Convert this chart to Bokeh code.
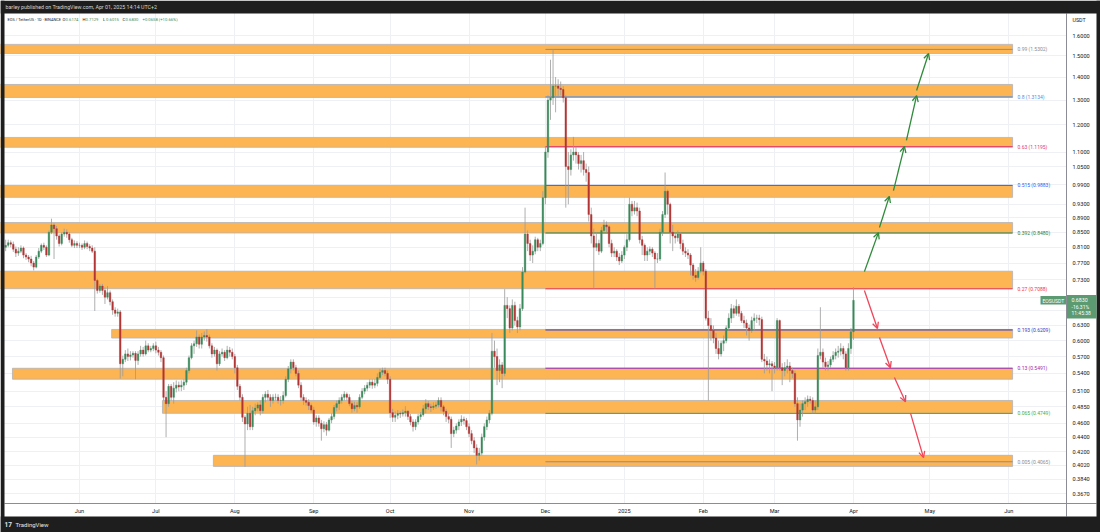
import math
import pandas as pd
from bokeh.plotting import figure
from bokeh.models import (Range1d, FixedTicker, PrintfTickFormatter, Label,
                          BoxAnnotation, Arrow, OpenHead, ColumnDataSource)
from bokeh.embed import file_html
from bokeh.resources import INLINE

# ---------------- data (EOS / USDT daily, 2024-05-03 .. 2025-04-01) ----------------
first_open = 0.81
close = [
    # May 3-31
    0.815, 0.822, 0.818, 0.805, 0.795, 0.800, 0.808, 0.790, 0.785, 0.780, 0.770, 0.760, 0.785, 0.800, 0.815,
    0.810, 0.790, 0.850, 0.870, 0.860, 0.840, 0.820, 0.845, 0.850, 0.845, 0.830, 0.815, 0.820, 0.815,
    # Jun
    0.815, 0.810, 0.820, 0.812, 0.808, 0.800, 0.728, 0.705, 0.715, 0.705, 0.690, 0.700, 0.680, 0.662, 0.655,
    0.658, 0.557, 0.565, 0.575, 0.570, 0.573, 0.576, 0.563, 0.575, 0.582, 0.575, 0.590, 0.582, 0.585, 0.590,
    # Jul
    0.582, 0.578, 0.568, 0.500, 0.490, 0.518, 0.500, 0.515, 0.520, 0.517, 0.520, 0.525, 0.545, 0.568, 0.590,
    0.594, 0.607, 0.593, 0.607, 0.610, 0.607, 0.590, 0.575, 0.582, 0.557, 0.575, 0.578, 0.568, 0.582, 0.578, 0.570,
    # Aug
    0.550, 0.518, 0.500, 0.469, 0.459, 0.475, 0.455, 0.479, 0.483, 0.488, 0.479, 0.500, 0.505, 0.500, 0.495,
    0.500, 0.500, 0.495, 0.495, 0.503, 0.530, 0.548, 0.560, 0.550, 0.540, 0.520, 0.500, 0.495, 0.492, 0.487, 0.480,
    # Sep
    0.462, 0.468, 0.460, 0.452, 0.458, 0.450, 0.465, 0.470, 0.484, 0.490, 0.495, 0.500, 0.505, 0.500, 0.490,
    0.482, 0.487, 0.485, 0.500, 0.510, 0.515, 0.520, 0.525, 0.520, 0.523, 0.533, 0.542, 0.545, 0.540, 0.530,
    # Oct
    0.476, 0.469, 0.472, 0.475, 0.474, 0.476, 0.478, 0.470, 0.462, 0.455, 0.462, 0.470, 0.473, 0.482, 0.490,
    0.485, 0.484, 0.486, 0.488, 0.495, 0.485, 0.478, 0.470, 0.466, 0.445, 0.450, 0.456, 0.462, 0.466, 0.464, 0.455,
    # Nov
    0.445, 0.435, 0.425, 0.415, 0.418, 0.440, 0.455, 0.465, 0.475, 0.580, 0.570, 0.545, 0.555, 0.540, 0.672,
    0.665, 0.625, 0.672, 0.640, 0.627, 0.665, 0.748, 0.845, 0.820, 0.790, 0.800, 0.830, 0.810, 0.820, 0.950,
    # Dec
    1.100, 1.300, 1.310, 1.360, 1.360, 1.350, 1.345, 1.310, 1.050, 1.040, 1.090, 1.100, 1.090, 1.060, 1.070,
    1.040, 1.030, 0.900, 0.840, 0.810, 0.820, 0.800, 0.855, 0.870, 0.865, 0.820, 0.795, 0.800, 0.785, 0.775, 0.790,
    # Jan
    0.810, 0.830, 0.930, 0.910, 0.920, 0.910, 0.830, 0.815, 0.790, 0.800, 0.805, 0.795, 0.780, 0.780, 0.850,
    0.900, 0.970, 0.930, 0.850, 0.840, 0.835, 0.845, 0.820, 0.800, 0.795, 0.790, 0.765, 0.740, 0.735, 0.750, 0.770,
    # Feb
    0.750, 0.645, 0.630, 0.620, 0.605, 0.585, 0.575, 0.595, 0.600, 0.625, 0.645, 0.665, 0.655, 0.670, 0.655,
    0.640, 0.635, 0.625, 0.620, 0.640, 0.645, 0.645, 0.642, 0.565, 0.562, 0.555, 0.557, 0.553,
    # Mar
    0.550, 0.640, 0.550, 0.545, 0.550, 0.553, 0.545, 0.540, 0.490, 0.465, 0.480, 0.490, 0.493, 0.497, 0.495,
    0.480, 0.485, 0.572, 0.578, 0.560, 0.552, 0.555, 0.565, 0.572, 0.578, 0.580, 0.585, 0.575, 0.550, 0.585, 0.6174,
    # Apr 1
    0.6830,
]
high = [
    0.830, 0.830, 0.828, 0.825, 0.812, 0.810, 0.815, 0.812, 0.795, 0.790, 0.788, 0.775, 0.790, 0.808, 0.820,
    0.822, 0.815, 0.855, 0.888, 0.875, 0.868, 0.845, 0.850, 0.860, 0.858, 0.850, 0.835, 0.828, 0.826,
    0.822, 0.820, 0.828, 0.825, 0.818, 0.815, 0.810, 0.732, 0.720, 0.720, 0.712, 0.715, 0.705, 0.685, 0.668,
    0.665, 0.662, 0.572, 0.582, 0.585, 0.580, 0.580, 0.580, 0.580, 0.590, 0.588, 0.600, 0.595, 0.590, 0.595,
    0.598, 0.588, 0.582, 0.572, 0.510, 0.522, 0.522, 0.525, 0.528, 0.526, 0.528, 0.530, 0.550, 0.572, 0.595,
    0.600, 0.620, 0.612, 0.615, 0.618, 0.622, 0.612, 0.595, 0.588, 0.585, 0.580, 0.585, 0.582, 0.590, 0.588, 0.585,
    0.575, 0.555, 0.522, 0.505, 0.472, 0.485, 0.488, 0.485, 0.490, 0.492, 0.495, 0.505, 0.510, 0.512, 0.505,
    0.505, 0.506, 0.505, 0.502, 0.510, 0.535, 0.553, 0.565, 0.565, 0.555, 0.545, 0.525, 0.505, 0.500, 0.497, 0.490,
    0.485, 0.472, 0.472, 0.465, 0.463, 0.462, 0.468, 0.475, 0.488, 0.495, 0.500, 0.505, 0.510, 0.508, 0.505,
    0.494, 0.493, 0.492, 0.505, 0.515, 0.520, 0.525, 0.530, 0.530, 0.530, 0.540, 0.548, 0.550, 0.550, 0.545,
    0.535, 0.482, 0.478, 0.480, 0.478, 0.481, 0.486, 0.480, 0.474, 0.466, 0.466, 0.474, 0.477, 0.488, 0.497,
    0.494, 0.490, 0.492, 0.493, 0.500, 0.500, 0.488, 0.482, 0.475, 0.470, 0.455, 0.460, 0.466, 0.472, 0.470, 0.468,
    0.460, 0.450, 0.440, 0.430, 0.425, 0.445, 0.460, 0.470, 0.480, 0.615, 0.600, 0.585, 0.565, 0.560, 0.708,
    0.690, 0.672, 0.685, 0.680, 0.648, 0.675, 0.760, 0.920, 0.855, 0.830, 0.815, 0.838, 0.835, 0.830, 0.970,
    1.120, 1.320, 1.480, 1.530, 1.400, 1.390, 1.380, 1.360, 1.320, 1.100, 1.110, 1.155, 1.120, 1.100, 1.090,
    1.100, 1.060, 1.050, 0.920, 0.860, 0.850, 0.830, 0.865, 0.885, 0.880, 0.870, 0.830, 0.810, 0.805, 0.795, 0.800,
    0.815, 0.845, 0.950, 0.940, 0.940, 0.935, 0.920, 0.840, 0.820, 0.810, 0.812, 0.810, 0.800, 0.795, 0.860,
    0.910, 1.030, 0.975, 0.935, 0.870, 0.850, 0.855, 0.850, 0.830, 0.810, 0.805, 0.795, 0.770, 0.755, 0.760, 0.810,
    0.775, 0.755, 0.660, 0.645, 0.630, 0.615, 0.600, 0.600, 0.610, 0.630, 0.655, 0.675, 0.672, 0.685, 0.675,
    0.660, 0.650, 0.642, 0.632, 0.648, 0.655, 0.652, 0.652, 0.648, 0.575, 0.570, 0.565, 0.562,
    0.560, 0.645, 0.642, 0.558, 0.560, 0.565, 0.560, 0.550, 0.545, 0.500, 0.490, 0.495, 0.500, 0.503, 0.502,
    0.500, 0.495, 0.585, 0.668, 0.585, 0.568, 0.562, 0.570, 0.580, 0.585, 0.590, 0.595, 0.590, 0.580, 0.595, 0.625,
    0.7129,
]
low = [
    0.800, 0.810, 0.810, 0.798, 0.785, 0.788, 0.795, 0.782, 0.778, 0.772, 0.762, 0.752, 0.757, 0.780, 0.795,
    0.803, 0.785, 0.787, 0.845, 0.780, 0.830, 0.812, 0.815, 0.838, 0.835, 0.822, 0.810, 0.808, 0.808,
    0.808, 0.803, 0.805, 0.805, 0.800, 0.795, 0.660, 0.698, 0.700, 0.695, 0.675, 0.685, 0.672, 0.652, 0.648,
    0.648, 0.531, 0.535, 0.560, 0.562, 0.563, 0.568, 0.530, 0.555, 0.570, 0.570, 0.572, 0.578, 0.578, 0.580,
    0.576, 0.572, 0.560, 0.495, 0.440, 0.485, 0.495, 0.490, 0.508, 0.510, 0.510, 0.512, 0.520, 0.540, 0.565,
    0.575, 0.588, 0.585, 0.585, 0.600, 0.598, 0.585, 0.568, 0.570, 0.545, 0.553, 0.570, 0.562, 0.565, 0.570, 0.565,
    0.540, 0.512, 0.495, 0.462, 0.400, 0.450, 0.450, 0.450, 0.472, 0.478, 0.472, 0.475, 0.492, 0.495, 0.485,
    0.490, 0.495, 0.490, 0.487, 0.490, 0.500, 0.525, 0.540, 0.545, 0.535, 0.515, 0.495, 0.488, 0.487, 0.480, 0.476,
    0.458, 0.455, 0.455, 0.435, 0.447, 0.442, 0.448, 0.460, 0.466, 0.478, 0.480, 0.490, 0.495, 0.495, 0.486,
    0.476, 0.478, 0.476, 0.482, 0.497, 0.505, 0.510, 0.515, 0.514, 0.515, 0.518, 0.530, 0.537, 0.535, 0.522,
    0.468, 0.462, 0.462, 0.466, 0.468, 0.470, 0.470, 0.465, 0.457, 0.448, 0.450, 0.458, 0.465, 0.470, 0.475,
    0.480, 0.477, 0.480, 0.482, 0.484, 0.478, 0.472, 0.462, 0.460, 0.425, 0.440, 0.445, 0.450, 0.456, 0.458, 0.450,
    0.440, 0.430, 0.418, 0.403, 0.408, 0.415, 0.435, 0.450, 0.460, 0.472, 0.550, 0.520, 0.525, 0.515, 0.535,
    0.645, 0.615, 0.620, 0.630, 0.615, 0.620, 0.660, 0.745, 0.800, 0.775, 0.770, 0.792, 0.800, 0.800, 0.815,
    0.930, 1.080, 1.220, 1.280, 1.250, 1.310, 1.320, 1.290, 0.920, 0.930, 1.020, 1.070, 1.060, 1.040, 1.030,
    1.020, 1.000, 0.880, 0.820, 0.710, 0.800, 0.790, 0.795, 0.850, 0.850, 0.810, 0.785, 0.785, 0.775, 0.765, 0.770,
    0.780, 0.800, 0.825, 0.895, 0.900, 0.895, 0.820, 0.790, 0.775, 0.775, 0.790, 0.785, 0.710, 0.770, 0.775,
    0.840, 0.890, 0.900, 0.820, 0.800, 0.820, 0.825, 0.805, 0.790, 0.785, 0.780, 0.740, 0.730, 0.725, 0.730, 0.745,
    0.740, 0.640, 0.495, 0.600, 0.595, 0.575, 0.565, 0.570, 0.580, 0.595, 0.620, 0.635, 0.645, 0.650, 0.648,
    0.635, 0.625, 0.610, 0.600, 0.615, 0.620, 0.635, 0.630, 0.560, 0.540, 0.545, 0.540, 0.510,
    0.540, 0.545, 0.545, 0.520, 0.535, 0.540, 0.525, 0.532, 0.485, 0.435, 0.455, 0.470, 0.480, 0.485, 0.490,
    0.475, 0.475, 0.480, 0.565, 0.550, 0.545, 0.545, 0.550, 0.560, 0.565, 0.568, 0.572, 0.565, 0.545, 0.545, 0.575,
    0.6015,
]
first_day = "2024-05-03"

price_ticks = [1.6, 1.5, 1.4, 1.3, 1.2, 1.1, 1.05, 0.99, 0.93, 0.89, 0.85, 0.81, 0.77, 0.73, 0.69, 0.66,
               0.63, 0.60, 0.57, 0.54, 0.51, 0.485, 0.46, 0.44, 0.42, 0.402, 0.384, 0.367]
month_ticks = ["2024-06-01", "2024-07-01", "2024-08-01", "2024-09-01", "2024-10-01", "2024-11-01",
               "2024-12-01", "2025-01-01", "2025-02-01", "2025-03-01", "2025-04-01", "2025-05-01", "2025-06-01"]
month_labels = ["Jun", "Jul", "Aug", "Sep", "Oct", "Nov", "Dec", "2025", "Feb", "Mar", "Apr", "May", "Jun"]

# horizontal zones (price bands)
zone_top = [1.555, 1.367, 1.153, 0.988, 0.877, 0.750, 0.622, 0.549, 0.495, 0.415]
zone_bottom = [1.510, 1.311, 1.117, 0.951, 0.848, 0.709, 0.605, 0.530, 0.475, 0.4005]
zone_start = ["2024-04-01", "2024-04-01", "2024-04-01", "2024-04-01", "2024-04-01", "2024-04-01",
              "2024-06-13 15:00", "2024-05-05 16:00", "2024-07-03 14:00", "2024-07-23 14:00"]
zone_end = "2025-06-02 12:00"

# fibonacci retracement
fib_ratio = ["0.99", "0.8", "0.63", "0.515", "0.392", "0.27", "0.193", "0.13", "0.065", "0.005"]
fib_price = [1.5302, 1.3134, 1.1195, 0.9883, 0.8480, 0.7088, 0.6209, 0.5491, 0.4749, 0.4065]
fib_color = ["#8a8d96", "#4f8fe6", "#e0406e", "#2962ff", "#2e7d32", "#f23645", "#3838c0", "#9c27b0",
             "#3fae3f", "#8a8d96"]
fib_start = "2024-12-01"

# projection arrows (start date, start price, end date, end price)
up_arrows = [("2025-04-05 07:00", 0.749, "2025-04-10 19:00", 0.849),
             ("2025-04-11 05:00", 0.863, "2025-04-15 02:00", 0.954),
             ("2025-04-16 17:00", 0.972, "2025-04-21 00:00", 1.120),
             ("2025-04-21 19:00", 1.142, "2025-04-25 19:00", 1.319),
             ("2025-04-25 19:00", 1.341, "2025-04-30 12:00", 1.510)]
down_arrows = [("2025-04-05 07:00", 0.705, "2025-04-10 10:00", 0.624),
               ("2025-04-11 05:00", 0.606, "2025-04-15 12:00", 0.550),
               ("2025-04-17 02:00", 0.533, "2025-04-21 10:00", 0.493),
               ("2025-04-23 10:00", 0.475, "2025-04-28 12:00", 0.412)]

# ---------------- layout helpers (pixel <-> data, whole canvas is the frame) ----------------
DAY = 86400000.0
W, H = 1100, 532


def ms(s):
    return pd.Timestamp(s).value / 1e6


T0 = ms("2024-06-01")
PX_T0, PX_DAY = 79.0, 2.546          # Jun 1 2024 sits at x=79, 2.546 px per day
PY_REF, LN_REF, PX_LN = 35.0, math.log(1.6), 311.1   # 1.6 sits at y=35, 311.1 px per ln unit


def px_x(px):
    return T0 + (px - PX_T0) / PX_DAY * DAY


def px_y(py):
    return math.exp(LN_REF - (py - PY_REF) / PX_LN)


FONT = "Roboto"
DARK = "#1e1e1e"
TXT = "#131722"
GREEN = "#3a8a5c"
RED = "#b43434"
SEP = "#8a8d96"

# ---------------- figure ----------------
p = figure(width=W, height=H, x_axis_type="datetime", y_axis_type="log",
           x_range=Range1d(px_x(0), px_x(W)), y_range=Range1d(px_y(H), px_y(0)),
           y_axis_location="right", output_backend="svg", toolbar_location=None,
           title_location=None,
           min_border_left=0, min_border_right=0, min_border_top=0, min_border_bottom=0,
           background_fill_color="white", border_fill_color=DARK, outline_line_color=None)

p.yaxis.ticker = FixedTicker(ticks=price_ticks)
p.ygrid.ticker = FixedTicker(ticks=price_ticks)
p.yaxis.formatter = PrintfTickFormatter(format="%.4f")
tick_ms = [int(ms(t)) for t in month_ticks]
p.xaxis.ticker = FixedTicker(ticks=tick_ms)
p.xgrid.ticker = FixedTicker(ticks=tick_ms)
p.xaxis.major_label_overrides = {t: lab for t, lab in zip(tick_ms, month_labels)}

for ax in (p.xaxis, p.yaxis):
    ax.major_tick_line_color = None
    ax.minor_tick_line_color = None
    ax.major_tick_out = 0
    ax.major_tick_in = 0
    ax.minor_tick_out = 0
    ax.minor_tick_in = 0
    ax.axis_line_color = None
    ax.major_label_text_font = FONT
    ax.major_label_text_font_size = "5.6px"
    ax.major_label_text_color = TXT
p.yaxis.major_label_standoff = -28     # labels start at x = 1072
p.xaxis.major_label_standoff = -25     # labels centred near y = 510
p.grid.grid_line_color = "#eef0f3"
p.grid.grid_line_width = 1

# white price-scale / time-scale panels (hide grid there)
p.add_layout(BoxAnnotation(left=px_x(1066), right=px_x(W), top=px_y(0), bottom=px_y(H),
                           fill_color="white", fill_alpha=1, line_color=None, level="underlay"))
p.add_layout(BoxAnnotation(left=px_x(0), right=px_x(W), top=px_y(503), bottom=px_y(H),
                           fill_color="white", fill_alpha=1, line_color=None, level="underlay"))

# zones
p.quad(left=[ms(s) for s in zone_start], right=[ms(zone_end)] * len(zone_top),
       top=zone_top, bottom=zone_bottom, fill_color="#fdb553", fill_alpha=1.0,
       line_color="#b0b3ba", line_width=0.8)

# fib lines
n = len(fib_price)
p.segment(x0=[ms(fib_start)] * n, x1=[ms(zone_end)] * n, y0=fib_price, y1=fib_price,
          line_color=fib_color, line_width=1)

# candles
dates = pd.date_range(first_day, periods=len(close), freq="D")
opens = [first_open] + close[:-1]
hi = [max(h, o, c) for h, o, c in zip(high, opens, close)]
lo = [min(l, o, c) for l, o, c in zip(low, opens, close)]
src = ColumnDataSource(dict(
    x=dates, hi=hi, lo=lo,
    top=[max(o, c) for o, c in zip(opens, close)],
    bot=[min(o, c) for o, c in zip(opens, close)],
    col=[GREEN if c >= o else RED for o, c in zip(opens, close)]))
p.segment(x0="x", y0="lo", x1="x", y1="hi", source=src, line_color="#9a9a9a", line_width=0.8)
p.vbar(x="x", width=0.62 * DAY, top="top", bottom="bot", source=src,
       fill_color="col", line_color="col", line_width=0.4)

# scale separators
p.segment(x0=[px_x(1066), px_x(4)], y0=[px_y(13), px_y(503)],
          x1=[px_x(1066), px_x(1096)], y1=[px_y(516), px_y(503)], line_color=SEP, line_width=1)

# dark outer frame
for l_, r_, t_, b_ in [(0, W, 0, 13), (0, W, 516, H), (0, 4, 0, H), (1096, W, 0, H)]:
    p.add_layout(BoxAnnotation(left=px_x(l_), right=px_x(r_), top=px_y(t_), bottom=px_y(b_),
                               fill_color=DARK, fill_alpha=1, line_color=None))

# arrows
for xs, ys, xe, ye in up_arrows:
    p.add_layout(Arrow(x_start=ms(xs), y_start=ys, x_end=ms(xe), y_end=ye,
                       line_color="#2e8b3a", line_width=1.3,
                       end=OpenHead(size=6, line_color="#2e8b3a", line_width=1.3)))
for xs, ys, xe, ye in down_arrows:
    p.add_layout(Arrow(x_start=ms(xs), y_start=ys, x_end=ms(xe), y_end=ye,
                       line_color="#f0455a", line_width=1.3,
                       end=OpenHead(size=6, line_color="#f0455a", line_width=1.3)))

# fib labels
for r, pr, c in zip(fib_ratio, fib_price, fib_color):
    p.add_layout(Label(x=px_x(1017), y=pr, text=f"{r} ({pr:.4f})", text_color=c,
                       text_font=FONT, text_font_size="5px", text_baseline="middle",
                       text_align="left"))


def lab(px, py, text, color, size, bold=False, align="left"):
    p.add_layout(Label(x=px_x(px), y=px_y(py), text=text, text_color=color, text_font=FONT,
                       text_font_size=size, text_baseline="middle", text_align=align,
                       text_font_style="bold" if bold else "normal"))


# header texts
lab(5, 6.5, "barley published on TradingView.com, Apr 01, 2025 14:14 UTC+2", "#d5d5d5", "5.3px")
lab(7, 19, "EOS / TetherUS · 1D · BINANCE", TXT, "3.9px")
for px_, letter, val in [(62, "O", "0.6174"), (82, "H", "0.7129"), (102.5, "L", "0.6015"), (122, "C", "0.6830")]:
    lab(px_, 19, letter, TXT, "4.2px")
    lab(px_ + 3.1, 19, val, GREEN, "4.2px")
lab(142, 19, "+0.0658 (+10.66%)", GREEN, "4.2px")

# footer
lab(4, 524, "17", "#e6e6e6", "6.5px", bold=True)
lab(15, 524, "TradingView", "#e6e6e6", "6px")

# price scale extras
lab(1072, 19, "USDT", TXT, "5.3px")
p.add_layout(BoxAnnotation(left=px_x(1066.5), right=px_x(1096), top=px_y(294.5), bottom=px_y(318),
                           fill_color="#5c9a72", fill_alpha=1, line_color=None))
p.add_layout(BoxAnnotation(left=px_x(1040), right=px_x(1065.5), top=px_y(295.5), bottom=px_y(304),
                           fill_color="#5c9a72", fill_alpha=1, line_color=None))
lab(1042, 300, "EOSUSDT", "white", "5px")
lab(1071, 299.5, "0.6830", "white", "5.3px")
lab(1071, 306, "-16.31%", "white", "5px")
lab(1071, 312.5, "11:45:38", "white", "5px")

html = file_html(p, INLINE, title="EOS / TetherUS")
html = html.replace("<body>", '<body style="margin:0;background:#1e1e1e;overflow:hidden">', 1)
open("out.html", "w").write(html)
